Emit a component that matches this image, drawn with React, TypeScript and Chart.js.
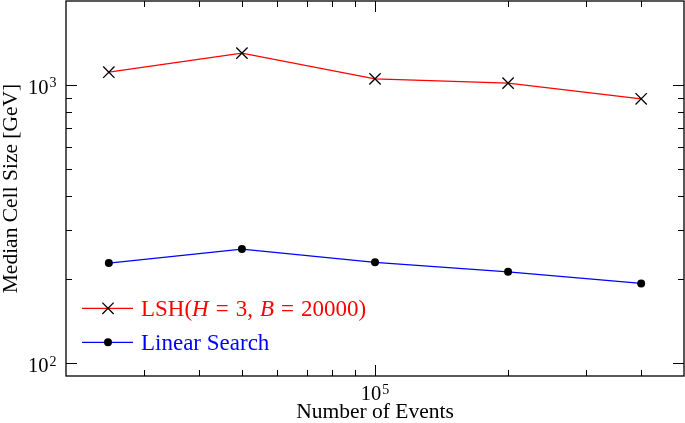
import { useEffect, useRef } from 'react';
import { Chart, registerables } from 'chart.js';

Chart.register(...registerables);

// ---- data ----
const events = [25000, 50000, 100000, 200000, 400000];
const lshCellSize = [1110, 1300, 1050, 1014, 891];
const linearCellSize = [229, 257, 230.5, 213, 193.5];

const xRange = [20000, 500000];
const yRange = [90, 2000];
const xMajorTicks = [100000];
const yMajorTicks = [100, 1000];
const xMajorLabels = ['5'];
const yMajorLabels = ['2', '3'];

const xTitle = 'Number of Events';
const yTitle = 'Median Cell Size [GeV]';
const lshName = 'LSH(H = 3, B = 20000)';
const linearName = 'Linear Search';
// legend parts for LSH: [text, italic]
const lshLegendParts: [string, boolean][] = [
  ['LSH(', false],
  ['H', true],
  [' = 3, ', false],
  ['B', true],
  [' = 20000)', false],
];

const FONT = '"Liberation Serif", "Times New Roman", serif';

function isMajor(v: number) {
  const l = Math.log10(v);
  return Math.abs(l - Math.round(l)) < 1e-9;
}
function isNiceLogTick(v: number) {
  const e = Math.floor(Math.log10(v) + 1e-9);
  const m = v / Math.pow(10, e);
  return Math.abs(m - Math.round(m)) < 1e-6;
}

const decorPlugin = {
  id: 'decor',
  afterDraw(chart: any) {
    const ctx: CanvasRenderingContext2D = chart.ctx;
    const { left, right, top, bottom } = chart.chartArea;
    const xs = chart.scales.x;
    const ys = chart.scales.y;
    ctx.save();
    ctx.strokeStyle = '#000';

    // ticks (inward, all sides)
    ctx.lineWidth = 1;
    ctx.beginPath();
    xs.ticks.forEach((t: any) => {
      const v = t.value;
      if (v <= xRange[0] || v >= xRange[1] || !isNiceLogTick(v)) return;
      const px = Math.round(xs.getPixelForValue(v)) + 0.5;
      const len = isMajor(v) ? 11 : 6;
      ctx.moveTo(px, bottom);
      ctx.lineTo(px, bottom - len);
      ctx.moveTo(px, top);
      ctx.lineTo(px, top + len);
    });
    ys.ticks.forEach((t: any) => {
      const v = t.value;
      if (v <= yRange[0] || v >= yRange[1] || !isNiceLogTick(v)) return;
      const py = Math.round(ys.getPixelForValue(v)) + 0.5;
      const len = isMajor(v) ? 11 : 6;
      ctx.moveTo(left, py);
      ctx.lineTo(left + len, py);
      ctx.moveTo(right, py);
      ctx.lineTo(right - len, py);
    });
    ctx.stroke();

    // frame
    ctx.lineWidth = 1.3;
    ctx.strokeRect(left, top, right - left, bottom - top);

    // tick labels with superscripts
    ctx.fillStyle = '#000';
    ctx.textBaseline = 'alphabetic';
    ctx.textAlign = 'left';
    const mainFont = `20.5px ${FONT}`;
    const supFont = `14px ${FONT}`;
    const measure = (s: string, f: string) => {
      ctx.font = f;
      return ctx.measureText(s).width;
    };
    xMajorTicks.forEach((v, i) => {
      const px = xs.getPixelForValue(v);
      const w1 = measure('10', mainFont);
      const w2 = measure(xMajorLabels[i], supFont);
      const x0 = px - (w1 + w2 + 1) / 2;
      ctx.font = mainFont;
      ctx.fillText('10', x0, 400);
      ctx.font = supFont;
      ctx.fillText(xMajorLabels[i], x0 + w1 + 1, 393.5);
    });
    yMajorTicks.forEach((v, i) => {
      const py = ys.getPixelForValue(v);
      const w1 = measure('10', mainFont);
      const w2 = measure(yMajorLabels[i], supFont);
      const xr = 56.5;
      const x0 = xr - w2 - 1 - w1;
      ctx.font = mainFont;
      ctx.fillText('10', x0, py + 8.8);
      ctx.font = supFont;
      ctx.fillText(yMajorLabels[i], x0 + w1 + 1, py + 2.5);
    });

    // axis titles
    ctx.font = `21.5px ${FONT}`;
    ctx.textAlign = 'center';
    ctx.fillText(xTitle, (left + right) / 2, 418);
    ctx.save();
    ctx.translate(17, (top + bottom) / 2);
    ctx.rotate(-Math.PI / 2);
    ctx.fillText(yTitle, 0, 0);
    ctx.restore();

    // legend
    const ds = chart.data.datasets;
    const rows = [308.3, 342.3];
    const lx0 = 82, lx1 = 133, mx = 108, tx = 141;
    ds.forEach((d: any, i: number) => {
      const y = rows[i];
      ctx.strokeStyle = d.borderColor;
      ctx.lineWidth = d.borderWidth;
      ctx.beginPath();
      ctx.moveTo(lx0, y);
      ctx.lineTo(lx1, y);
      ctx.stroke();
      if (d.pointStyle === 'crossRot') {
        const r = d.pointRadius * Math.SQRT1_2;
        ctx.strokeStyle = d.pointBorderColor;
        ctx.lineWidth = d.pointBorderWidth;
        ctx.beginPath();
        ctx.moveTo(mx - r, y - r);
        ctx.lineTo(mx + r, y + r);
        ctx.moveTo(mx - r, y + r);
        ctx.lineTo(mx + r, y - r);
        ctx.stroke();
      } else {
        ctx.fillStyle = d.pointBackgroundColor;
        ctx.beginPath();
        ctx.arc(mx, y, d.pointRadius, 0, Math.PI * 2);
        ctx.fill();
      }
      ctx.fillStyle = d.borderColor;
      ctx.textAlign = 'left';
      const base = y + 7.6;
      if (i === 0) {
        let x = tx;
        lshLegendParts.forEach(([s, it]) => {
          const f = `${it ? 'italic ' : ''}23px ${FONT}`;
          ctx.font = f;
          // widen math spacing a bit
          const segs = s.split(' ');
          segs.forEach((seg, k) => {
            if (k > 0) x += 7;
            ctx.fillText(seg, x, base);
            x += ctx.measureText(seg).width;
          });
        });
      } else {
        ctx.font = `23px ${FONT}`;
        ctx.fillText(d.label, tx, base);
      }
    });

    ctx.restore();
  },
};

export default function App() {
  const ref = useRef<HTMLCanvasElement | null>(null);
  useEffect(() => {
    document.body.style.margin = '0';
    const canvas = ref.current;
    if (!canvas) return;
    const chart = new Chart(canvas, {
      type: 'line',
      data: {
        datasets: [
          {
            label: lshName,
            data: events.map((x, i) => ({ x, y: lshCellSize[i] })),
            borderColor: '#ff0000',
            borderWidth: 1.3,
            pointStyle: 'crossRot',
            pointRadius: 8,
            pointHoverRadius: 8,
            pointBorderColor: '#000000',
            pointBackgroundColor: 'rgba(0,0,0,0)',
            pointBorderWidth: 1.3,
            tension: 0,
            fill: false,
          },
          {
            label: linearName,
            data: events.map((x, i) => ({ x, y: linearCellSize[i] })),
            borderColor: '#0000ff',
            borderWidth: 1.3,
            pointStyle: 'circle',
            pointRadius: 4,
            pointHoverRadius: 4,
            pointBorderColor: '#000000',
            pointBackgroundColor: '#000000',
            pointBorderWidth: 0,
            tension: 0,
            fill: false,
          },
        ],
      } as any,
      options: {
        animation: false,
        responsive: false,
        devicePixelRatio: 1,
        layout: { autoPadding: false, padding: { top: 1, right: 1, left: 0, bottom: 0 } },
        plugins: {
          legend: { display: false },
          tooltip: { enabled: false },
          title: { display: false },
        },
        events: [],
        scales: {
          x: {
            type: 'logarithmic',
            min: xRange[0],
            max: xRange[1],
            grid: { display: false },
            border: { display: false },
            ticks: { display: false },
            afterFit: (s: any) => {
              s.height = 47;
            },
          },
          y: {
            type: 'logarithmic',
            min: yRange[0],
            max: yRange[1],
            grid: { display: false },
            border: { display: false },
            ticks: { display: false },
            afterFit: (s: any) => {
              s.width = 66;
            },
          },
        },
      } as any,
      plugins: [decorPlugin],
    });
    return () => chart.destroy();
  }, []);
  return (
    <div style={{ width: 685, height: 423 }}>
      <canvas ref={ref} width={685} height={423} style={{ display: 'block' }} />
    </div>
  );
}
